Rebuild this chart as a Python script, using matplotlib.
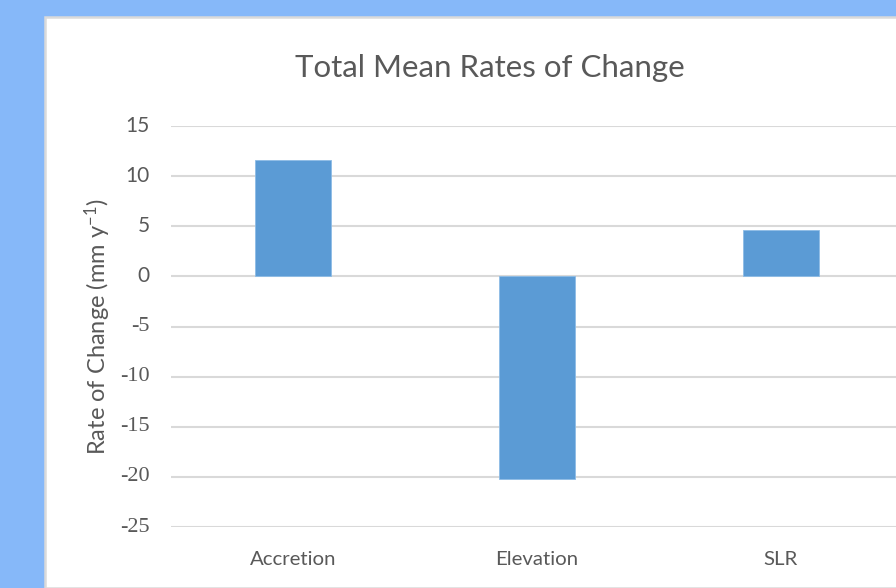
import matplotlib
matplotlib.use("Agg")
import matplotlib.pyplot as plt
from matplotlib.patches import Rectangle

# mean rates of change, mm per year
categories = ["Accretion", "Elevation", "SLR"]
rates = [11.6, -20.2, 4.6]
yticks = [15, 10, 5, 0, -5, -10, -15, -20, -25]

plt.rcParams["mathtext.fontset"] = "custom"
plt.rcParams["mathtext.rm"] = "Lato"
plt.rcParams["mathtext.default"] = "regular"

W, H = 896, 588
fig = plt.figure(figsize=(W / 100, H / 100), dpi=100)
fig.patch.set_facecolor("#86B8F9")

# white chart area sitting on the blue slide
panel = Rectangle((45 / W, 0), 1, 1 - 17 / H, transform=fig.transFigure,
                  facecolor="white", edgecolor="#DADADA", linewidth=1.8, zorder=-10)
fig.patches.append(panel)

ax = fig.add_axes([171 / W, 1 - 527 / H, 732 / W, 401 / H])
ax.set_facecolor("none")
ax.set_zorder(1)

x = range(len(categories))
ax.bar(x, rates, width=0.31, color="#5B9BD5", edgecolor="#8DBCE6", linewidth=0.6, zorder=3)

ax.set_xlim(-0.5, len(categories) - 0.5)
ax.set_ylim(-25, 15)
ax.grid(axis="y", color="#D9D9D9", linewidth=1.5, zorder=0)
ax.tick_params(length=0)
ax.tick_params(axis="x", pad=17)
for s in ax.spines.values():
    s.set_visible(False)

# y tick labels written by hand: negatives in a serif face, positives in sans
ax.set_yticks(yticks)
ax.set_yticklabels([])
for t in yticks:
    if t < 0:
        fam, size = ["Liberation Serif", "DejaVu Serif"], 16
    else:
        fam, size = ["Lato"], 15
    ax.annotate(str(t), xy=(0, t), xycoords=("axes fraction", "data"),
                xytext=(-21, 0), textcoords="offset pixels", ha="right", va="center",
                family=fam, fontsize=size, color="#595959", annotation_clip=False)

ax.set_xticks(list(x))
ax.set_xticklabels(categories, fontfamily="Lato", fontsize=14.7, color="#595959")

ax.set_ylabel("Rate of Change (mm y$^{-1}$)", fontfamily="Lato", fontsize=17,
              color="#595959")
ax.yaxis.set_label_coords(-0.079, 0.5)

fig.text(490 / W, 1 - 68 / H, "Total Mean Rates of Change", ha="center", va="center",
         fontfamily="Lato", fontsize=22.5, color="#595959")

fig.savefig("out.png", dpi=100, facecolor=fig.get_facecolor())
